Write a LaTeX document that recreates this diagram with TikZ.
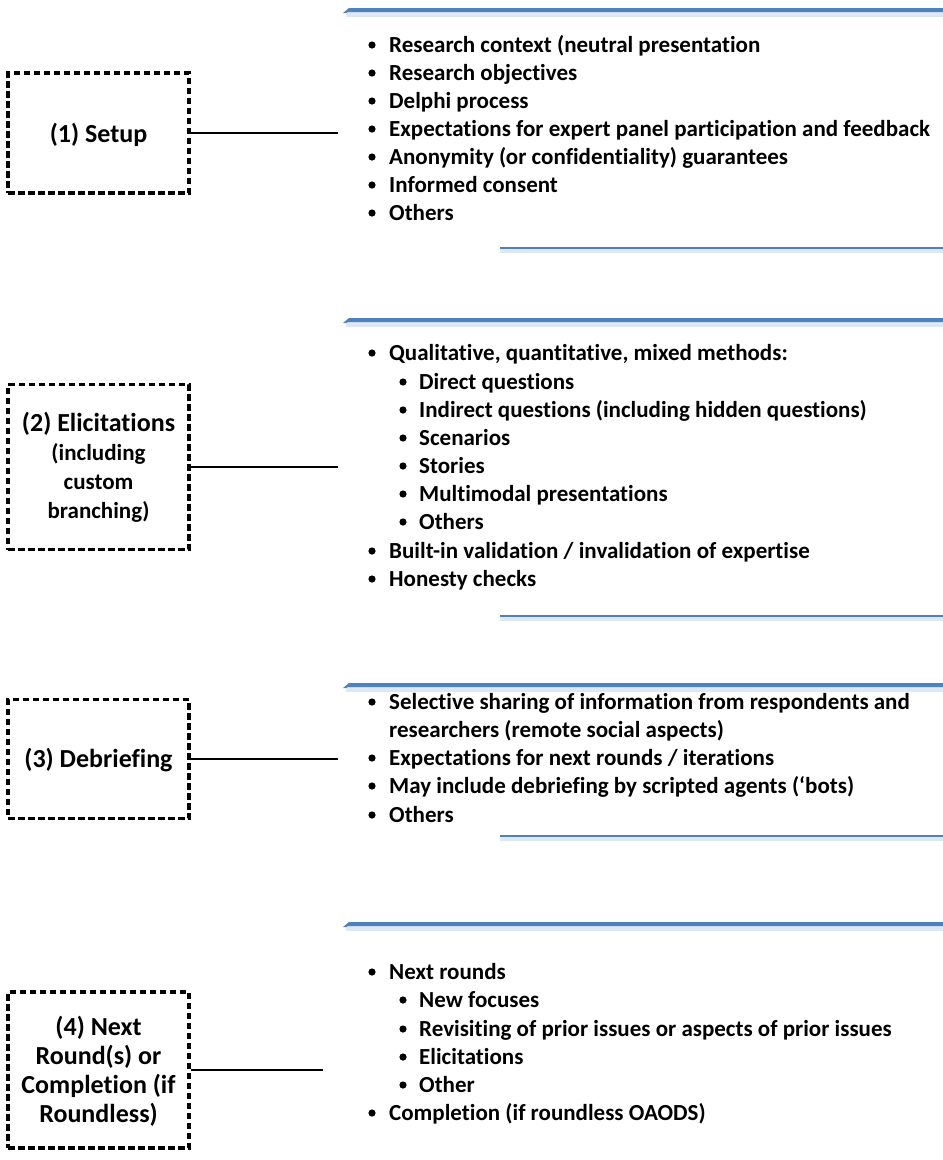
\documentclass[tikz,border=0pt]{standalone}
\usepackage{fontspec}
\setmainfont{Carlito}[RawFeature={-liga;-dlig}]
\definecolor{barblue}{RGB}{79,129,189}
\definecolor{barshade}{RGB}{198,217,241}
\begin{document}
\begin{tikzpicture}[x=1pt,y=-1pt,
  txt/.style={font=\bfseries\fontsize{23}{28}\selectfont, inner sep=0pt, anchor=west, text height=17pt, text depth=3pt},
  stagebox/.style={draw, line width=3.2pt, dash pattern=on 6.5pt off 3.5pt, minimum width=181pt, inner sep=0pt},
  stagetxt/.style={font=\bfseries\fontsize{26}{29}\selectfont, align=center, inner sep=0pt},
  conn/.style={line width=1.3pt},
  bul/.style={fill=black},
  topbar/.style={fill=barblue},
  shade/.style={fill=barshade, opacity=0.6},
  botline/.style={draw=barblue, line width=1.6pt}
]
\useasboundingbox (0,0) rectangle (943,1160);

% ---- stage boxes ----
\node[stagebox, minimum height=120pt] (b1) at (98.5,133) {};
\node[stagetxt] (t1) at (98.5,134.5) {(1) Setup};
\node[stagebox, minimum height=165pt] (b2) at (98.5,467) {};
\node[stagetxt] (t2) at (98.5,467) {(2) Elicitations\\{\fontsize{23}{29}\selectfont (including}\\{\fontsize{23}{29}\selectfont custom}\\{\fontsize{23}{29}\selectfont branching)}};
\node[stagebox, minimum height=119pt] (b3) at (98.5,759) {};
\node[stagetxt] (t3) at (98.5,760.5) {(3) Debriefing};
\node[stagebox, minimum height=156pt] (b4) at (98.5,1070) {};
\node[stagetxt] (t4) at (98.5,1071) {(4) Next\\Round(s) or\\Completion (if\\Roundless)};

% ---- connector ends ----
\coordinate (e1) at (338,133);
\coordinate (e2) at (338,467);
\coordinate (e3) at (338,759);
\coordinate (e4) at (323,1070);
\draw[conn] (e1 -| b1.east) -- (e1);
\draw[conn] (e2 -| b2.east) -- (e2);
\draw[conn] (e3 -| b3.east) -- (e3);
\draw[conn] (e4 -| b4.east) -- (e4);

% ---- top bars ----
\foreach \y in {8,318,683,922}{
  \fill[shade] (346,\y+4) rectangle (943,\y+9);
  \fill[topbar] (343,\y+5) -- (349,\y) -- (943,\y) -- (943,\y+4) -- (348,\y+4) -- (346,\y+5) -- cycle;
}
% ---- bottom lines ----
\foreach \y in {248,616,836}{
  \fill[shade] (500,\y+1) rectangle (943,\y+5);
  \draw[botline] (500,\y) -- (943,\y);
}

% ---- main bullets ----
\foreach \n/\y/\t in {
  a1/45/{Research context (neutral presentation},
  a2/73/{Research objectives},
  a3/101/{Delphi process},
  a4/129/{Expectations for expert panel participation and feedback},
  a5/157/{Anonymity (or confidentiality) guarantees},
  a6/185/{Informed consent},
  a7/213/{Others},
  c1/353/{Qualitative, quantitative, mixed methods:},
  c2/551/{Built-in validation / invalidation of expertise},
  c3/579/{Honesty checks},
  e1t/702/{Selective sharing of information from respondents and},
  e3t/758/{Expectations for next rounds / iterations},
  e4t/786/{May include debriefing by scripted agents (‘bots)},
  e5t/815/{Others},
  g1/972/{Next rounds},
  g2/1113/{Completion (if roundless OAODS)}}{
  \fill[bul] (372,\y) circle (3.6pt);
  \node[txt] (\n) at (389,\y) {\t};
}
\node[txt] (e2t) at (389,730) {researchers (remote social aspects)};

% ---- sub bullets ----
\foreach \n/\y/\t in {
  d1/382/{Direct questions},
  d2/410/{Indirect questions (including hidden questions)},
  d3/438/{Scenarios},
  d4/466/{Stories},
  d5/494/{Multimodal presentations},
  d6/522/{Others},
  h1/1000/{New focuses},
  h2/1029/{Revisiting of prior issues or aspects of prior issues},
  h3/1057/{Elicitations},
  h4/1085/{Other}}{
  \fill[bul] (403,\y) circle (3.6pt);
  \node[txt] (\n) at (419,\y) {\t};
}
\end{tikzpicture}
\end{document}
